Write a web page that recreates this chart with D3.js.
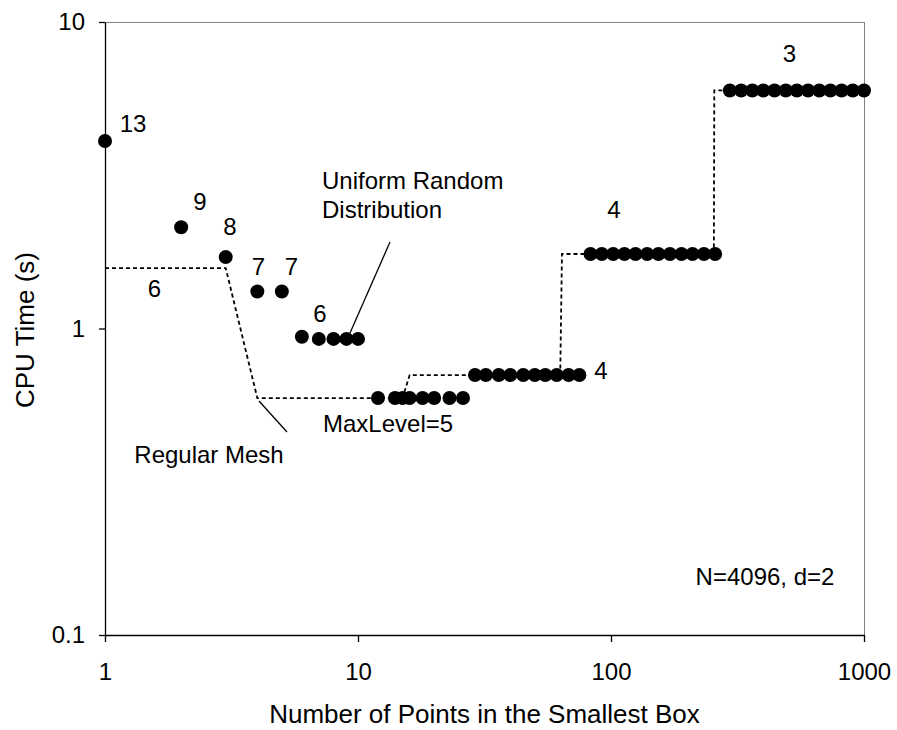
<!DOCTYPE html>
<html><head><meta charset="utf-8">
<script src="https://cdn.jsdelivr.net/npm/d3@7"></script>
<style>
body{margin:0;background:#fff}
text{font-family:Arial,"Liberation Sans",sans-serif;fill:#000}
</style>
</head><body><svg id="c" width="897" height="730"></svg>
<script>
// Uniform random distribution (points in smallest box vs CPU time)
const uniformX = [1,2,3,4,5,6,7,8,9,10,
  12,14,15,16,18,20,23,26,
  29,32,36,40,45,50,55,61,68,75,
  83,92,102,113,125,139,154,171,190,210,233,258,
  295,327,362,400,443,491,543,601,666,737,816,903,1000];
const uniformY = [4.09,2.14,1.71,1.32,1.32,0.94,0.925,0.925,0.925,0.925,
  0.593,0.593,0.593,0.593,0.593,0.593,0.593,0.593,
  0.705,0.705,0.705,0.705,0.705,0.705,0.705,0.705,0.705,0.705,
  1.75,1.75,1.75,1.75,1.75,1.75,1.75,1.75,1.75,1.75,1.75,1.75,
  5.98,5.98,5.98,5.98,5.98,5.98,5.98,5.98,5.98,5.98,5.98,5.98,5.98];
// Regular mesh (step line)
const meshX = [1,3,4,15,16,63,64,255,256,295];
const meshY = [1.575,1.575,0.593,0.593,0.705,0.705,1.75,1.75,5.98,5.98];
// Axes
const xTicks = [1,10,100,1000];
const xTickLabels = ["1","10","100","1000"];
const yTicks = [0.1,1,10];
const yTickLabels = ["0.1","1","10"];
// MaxLevel labels
const levelLabels = ["13","9","8","7","7","6","6","4","4","3"];

const svg = d3.select("#c");
const L=105,R=864,T=22,B=635;
const x = d3.scaleLog().domain([1,1000]).range([L,R]);
const y = d3.scaleLog().domain([0.1,10]).range([B,T]);

// frame top/right
svg.append("line").attr("x1",L).attr("x2",R).attr("y1",T+0.5).attr("y2",T+0.5).attr("stroke","#808080");
svg.append("line").attr("x1",R+0.5).attr("x2",R+0.5).attr("y1",T).attr("y2",B).attr("stroke","#808080");

const fs=24;
const gx = svg.append("g").attr("transform",`translate(0,${B})`)
  .call(d3.axisBottom(x).tickValues(xTicks).tickFormat((d,i)=>xTickLabels[i]).tickSize(7).tickPadding(21).tickSizeOuter(0));
const gy = svg.append("g").attr("transform",`translate(${L},0)`)
  .call(d3.axisLeft(y).tickValues(yTicks).tickFormat((d,i)=>yTickLabels[i]).tickSize(6).tickPadding(14).tickSizeOuter(0));
[gx,gy].forEach(g=>{
  g.selectAll("text").attr("font-size",fs).attr("font-family","Arial, 'Liberation Sans', sans-serif").attr("fill","#000");
  g.selectAll("line,path").attr("stroke","#000").attr("stroke-width",1.3);
});

// titles
svg.append("text").attr("x",(L+R)/2).attr("y",723).attr("text-anchor","middle").attr("font-size",26)
  .text("Number of Points in the Smallest Box");
svg.append("text").attr("transform","translate(34,330) rotate(-90)").attr("text-anchor","middle").attr("font-size",26)
  .text("CPU Time (s)");

// regular mesh dashed line
svg.append("path").datum(meshX.map((v,i)=>[v,meshY[i]]))
  .attr("d",d3.line().x(d=>x(d[0])).y(d=>y(d[1])))
  .attr("fill","none").attr("stroke","#000").attr("stroke-width",1.8).attr("stroke-dasharray","4,3");

// dots
svg.append("g").selectAll("circle").data(uniformX.map((v,i)=>[v,uniformY[i]])).join("circle")
  .attr("cx",d=>x(d[0])).attr("cy",d=>y(d[1])).attr("r",7).attr("fill","#000");

// leader lines
svg.append("line").attr("x1",390).attr("y1",242).attr("x2",350).attr("y2",333).attr("stroke","#000").attr("stroke-width",1.3);
svg.append("line").attr("x1",259).attr("y1",401).attr("x2",287).attr("y2",432).attr("stroke","#000").attr("stroke-width",1.3);

// level labels
const levelPos = [[133,123.5],[200,201.5],[230,226.5],[258.5,267],[291.5,267],[320,313.5],[154.5,288.5],[601,371],[614,210],[789.5,53.5]];
svg.append("g").selectAll("text").data(levelLabels).join("text")
  .attr("x",(d,i)=>levelPos[i][0]).attr("y",(d,i)=>levelPos[i][1]).attr("dy","0.35em")
  .attr("text-anchor","middle").attr("font-size",fs).text(d=>d);

// annotations
svg.append("text").attr("x",322).attr("y",189).attr("font-size",fs).text("Uniform Random");
svg.append("text").attr("x",322).attr("y",218).attr("font-size",fs).text("Distribution");
svg.append("text").attr("x",323).attr("y",423.5).attr("dy","0.35em").attr("font-size",fs).text("MaxLevel=5");
svg.append("text").attr("x",209).attr("y",455).attr("dy","0.35em").attr("text-anchor","middle").attr("font-size",fs).text("Regular Mesh");
svg.append("text").attr("x",765).attr("y",577).attr("dy","0.35em").attr("text-anchor","middle").attr("font-size",fs).text("N=4096, d=2");
</script></body></html>
